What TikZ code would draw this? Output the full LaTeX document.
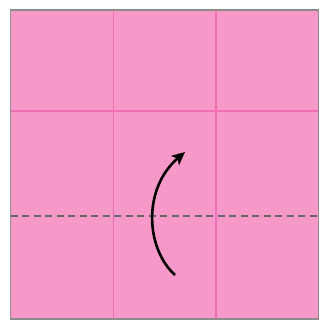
\documentclass[tikz,border=0pt]{standalone}
\usetikzlibrary{arrows.meta}
\definecolor{paper}{HTML}{F799C8}
\definecolor{crease}{HTML}{F06EB4}
\definecolor{edge}{HTML}{8C8C8C}
\tikzset{
  gridline/.style={crease, line width=1.2pt},
  valley/.style={draw=gray!80!black, line width=1.3pt, dash pattern=on 7pt off 4.5pt},
  foldarrow/.style={line width=2.6pt, -{Stealth[length=13pt,width=12pt,inset=3pt]}}
}
\begin{document}
\begin{tikzpicture}[x=1pt,y=1pt]
\useasboundingbox (0,0) rectangle (320,321);
\fill[paper] (10.5,2) rectangle (318.5,311);
\draw[gridline] (113.5,2) -- (113.5,311);
\draw[gridline] (216,2) -- (216,311);
\draw[gridline] (10.5,210) -- (318.5,210);
\draw[valley] (10.5,105) -- (318.5,105);
\draw[edge, line width=1.5pt] (10.5,2) rectangle (318.5,311);
\coordinate (s) at (175,46);
\coordinate (e) at (185,169);
\draw[foldarrow] (s) .. controls (146,72) and (142,132) .. (e);
\end{tikzpicture}
\end{document}
